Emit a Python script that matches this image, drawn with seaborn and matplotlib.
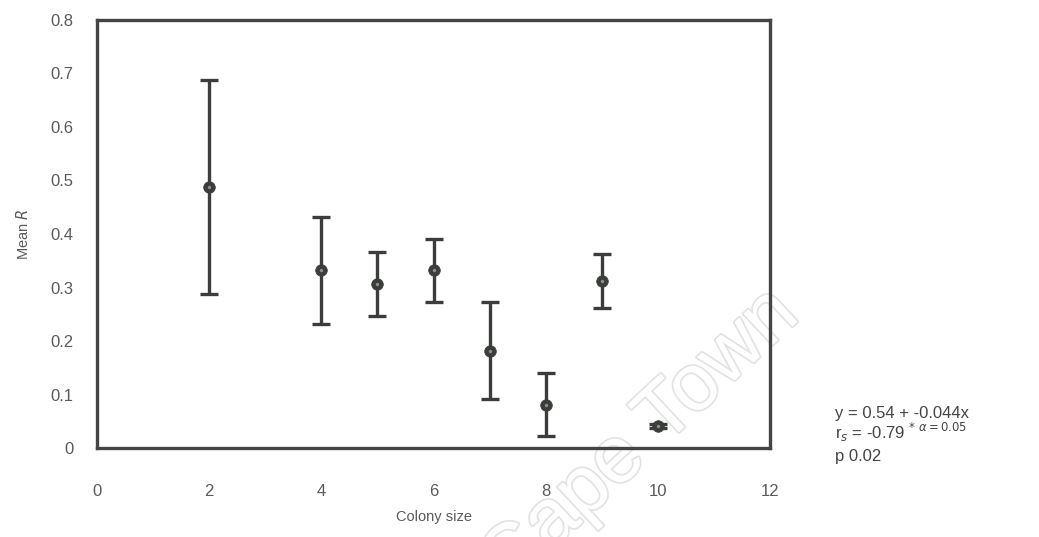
import matplotlib
matplotlib.use("Agg")
import matplotlib.pyplot as plt
import matplotlib.patheffects as pe
import seaborn as sns
import pandas as pd

# Mean relatedness by colony size, with error ranges
colony_size = [2, 4, 5, 6, 7, 8, 9, 10]
mean_r = [0.487, 0.332, 0.306, 0.332, 0.182, 0.081, 0.312, 0.041]
err_r = [0.200, 0.100, 0.060, 0.059, 0.091, 0.059, 0.050, 0.004]

x_ticks = [0, 2, 4, 6, 8, 10, 12]
y_ticks = [0, 0.1, 0.2, 0.3, 0.4, 0.5, 0.6, 0.7, 0.8]
y_tick_labels = ["0", "0.1", "0.2", "0.3", "0.4", "0.5", "0.6", "0.7", "0.8"]

df = pd.DataFrame({"size": colony_size, "R": mean_r, "err": err_r})

sns.set_theme(style="white")
plt.rcParams["font.family"] = ["Liberation Sans", "DejaVu Sans"]

ink = "#3a3d3a"
label_grey = "#5a5a5a"

fig = plt.figure(figsize=(10.39, 5.37), dpi=100)

# faint outlined watermark behind everything
fig.text(0.616, 0.181, "Cape Town", fontsize=58, color="white", rotation=43,
         ha="center", va="center", zorder=-5,
         path_effects=[pe.withStroke(linewidth=2.5, foreground="#e3e3e3")])

ax = fig.add_axes([0.0934, 0.1657, 0.6477, 0.7971])
ax.patch.set_alpha(0)

ax.errorbar(df["size"], df["R"], yerr=df["err"], fmt="none",
            ecolor=ink, elinewidth=2.4, capsize=6.5, capthick=2.4, zorder=2)
sns.scatterplot(data=df, x="size", y="R", ax=ax, s=70, color=ink,
                edgecolor=ink, linewidth=0.5, zorder=3, legend=False)
# light centres on the markers
sns.scatterplot(data=df, x="size", y="R", ax=ax, s=6, color="#8a8f8a",
                linewidth=0, zorder=4, legend=False)

ax.set_xlim(0, 12)
ax.set_ylim(0, 0.8)
ax.set_xticks(x_ticks)
ax.set_xticklabels([str(t) for t in x_ticks])
ax.set_yticks(y_ticks)
ax.set_yticklabels(y_tick_labels)

for s in ax.spines.values():
    s.set_color("#444444")
    s.set_linewidth(2.4)

ax.tick_params(axis="y", which="major", direction="out", length=5, width=1.2,
               color="#555555", labelsize=12, labelcolor=label_grey, pad=12)
ax.tick_params(axis="x", which="major", direction="out", length=0,
               labelsize=12, labelcolor=label_grey, pad=26)

ax.set_xlabel("Colony size", fontsize=10.5, color=label_grey, labelpad=8)
ax.set_ylabel("Mean $\\it{R}$", fontsize=10.5, color=label_grey, labelpad=14)

# regression and correlation summary
fig.text(0.804, 0.221, "y = 0.54 + -0.044x", fontsize=12, color="#444444")
fig.text(0.804, 0.182, "r$_s$ = -0.79 $^{*\\ \\alpha=0.05}$", fontsize=12,
         color="#444444")
fig.text(0.804, 0.141, "p 0.02", fontsize=12, color="#444444")

fig.savefig("out.png", dpi=100, facecolor="white")
